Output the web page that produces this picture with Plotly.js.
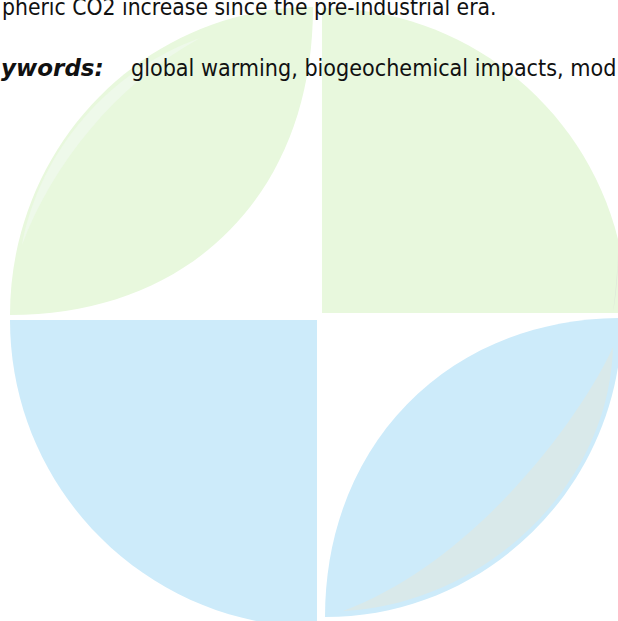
<!DOCTYPE html>
<html>
<head>
<meta charset="utf-8">
<script src="https://cdn.plot.ly/plotly-3.0.1.min.js"></script>
<style>
  html, body { margin: 0; padding: 0; background: #ffffff; }
  #chart { width: 618px; height: 621px; }
</style>
</head>
<body>
<div id="chart"></div>
<script>
// ---- data (page-pixel coordinate system of the logo) ----
// Quarter-disc segments of the logo
const quarterNames   = ['top-right quarter', 'bottom-left quarter'];
const quarterCornerX = [322, 317];
const quarterCornerY = [313, 320];
const quarterRadius  = [305, 307];
const quarterDirX    = [1, -1];
const quarterDirY    = [-1, 1];

// Leaf segments of the logo (two tips each, plus arc bulge factors)
const leafNames   = ['top-left leaf', 'bottom-right leaf'];
const leafTipAX   = [10, 325];
const leafTipAY   = [315, 617];
const leafTipBX   = [313, 622];
const leafTipBY   = [7, 318];
const leafBulge1  = [0.5523, 0.58];
const leafBulge2  = [0.60, 0.5523];

// Inner streaks (tip A, control, control, tip B, control, control)
const streakNames = ['green highlight', 'grey shade', 'grey edge'];
const streakX = [[22, 40, 110, 200, 115, 52], [343, 480, 609, 613, 585, 480], [613, 616, 618, 618, 618, 613]];
const streakY = [[245, 150, 70, 38, 85, 165], [611, 605, 490, 347, 410, 560], [312, 290, 262, 250, 290, 312]];

// Text lines of the page
const line1Text = 'pheric CO2 increase since the pre-industrial era.';
const keywordLabel = 'ywords:';
const keywordText = 'global warming, biogeochemical impacts, mod';

// ---- styles ----
const GREEN = '#e8f8dd';
const BLUE = '#cdebfa';
const quarterColors = [GREEN, BLUE];
const leafColors = [GREEN, BLUE];
const streakColors = ['#eef9ea', '#d9e9ea', '#dde6d8'];
const FONT = '"DejaVu Sans Condensed", "DejaVu Sans", Tahoma, sans-serif';
const BOLDFONT = '"DejaVu Sans", Tahoma, sans-serif';

function quarterPath(i) {
  const cx = quarterCornerX[i], cy = quarterCornerY[i], r = quarterRadius[i];
  const dx = quarterDirX[i], dy = quarterDirY[i], k = 0.5523;
  const vx = cx, vy = cy + dy * r;
  const hx = cx + dx * r, hy = cy;
  return `M ${cx},${cy} L ${vx},${vy} C ${cx + dx * k * r},${vy} ${hx},${cy + dy * k * r} ${hx},${hy} Z`;
}
function leafPath(i) {
  const ax = leafTipAX[i], ay = leafTipAY[i], bx = leafTipBX[i], by = leafTipBY[i];
  const k1 = leafBulge1[i], k2 = leafBulge2[i];
  return `M ${ax},${ay} C ${ax},${ay + (by - ay) * k1} ${bx + (ax - bx) * k1},${by} ${bx},${by} ` +
         `C ${bx},${by + (ay - by) * k2} ${ax + (bx - ax) * k2},${ay} ${ax},${ay} Z`;
}
function streakPath(i) {
  const x = streakX[i], y = streakY[i];
  return `M ${x[0]},${y[0]} C ${x[1]},${y[1]} ${x[2]},${y[2]} ${x[3]},${y[3]} ` +
         `C ${x[4]},${y[4]} ${x[5]},${y[5]} ${x[0]},${y[0]} Z`;
}

const shapes = [];
quarterNames.forEach((n, i) => shapes.push({
  type: 'path', xref: 'x', yref: 'y', path: quarterPath(i),
  fillcolor: quarterColors[i], line: { width: 0 }, layer: 'below'
}));
leafNames.forEach((n, i) => shapes.push({
  type: 'path', xref: 'x', yref: 'y', path: leafPath(i),
  fillcolor: leafColors[i], line: { width: 0 }, layer: 'below'
}));
streakNames.forEach((n, i) => shapes.push({
  type: 'path', xref: 'x', yref: 'y', path: streakPath(i),
  fillcolor: streakColors[i], line: { width: 0 }, layer: 'below'
}));

const annotations = [
  { x: 0, y: 7, xref: 'x', yref: 'y', xanchor: 'left', yanchor: 'middle', showarrow: false,
    text: line1Text, font: { family: FONT, size: 22.7, color: '#111111' } },
  { x: 106, y: 68, xref: 'x', yref: 'y', xanchor: 'right', yanchor: 'middle', showarrow: false,
    text: '<b><i>' + keywordLabel + '</i></b>', font: { family: BOLDFONT, size: 23, color: '#111111' } },
  { x: 129, y: 68, xref: 'x', yref: 'y', xanchor: 'left', yanchor: 'middle', showarrow: false,
    text: keywordText, font: { family: FONT, size: 23.1, color: '#111111' } }
];

const layout = {
  width: 618, height: 621,
  margin: { l: 0, r: 0, t: 0, b: 0, pad: 0 },
  paper_bgcolor: '#ffffff', plot_bgcolor: '#ffffff',
  showlegend: false,
  xaxis: { range: [0, 618], visible: false, fixedrange: true },
  yaxis: { range: [621, 0], visible: false, fixedrange: true },
  shapes: shapes,
  annotations: annotations
};

Plotly.newPlot('chart', [{ x: [], y: [], type: 'scatter', mode: 'markers', hoverinfo: 'skip' }], layout,
  { displayModeBar: false, staticPlot: true });
</script>
</body>
</html>
